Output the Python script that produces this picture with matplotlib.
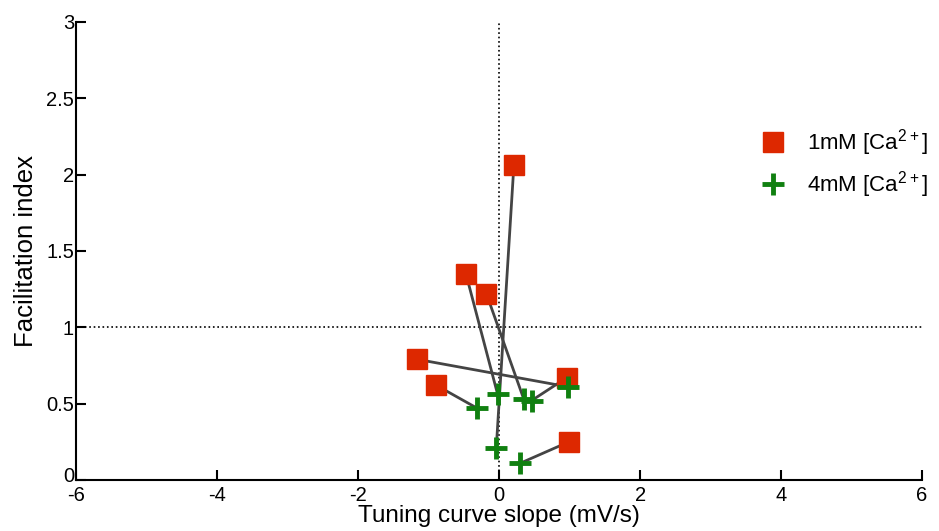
import numpy as np
import matplotlib.pyplot as plt
import matplotlib.transforms as mtransforms

plt.rcParams['font.family'] = ['Liberation Sans', 'DejaVu Sans']

# paired measurements: 1mM -> 4mM [Ca2+]
slope_1mM = [0.21, -0.47, -0.18, -1.16, -0.89, 0.96, 0.99]
fi_1mM = [2.06, 1.35, 1.22, 0.79, 0.62, 0.67, 0.25]
slope_4mM = [-0.04, -0.02, 0.35, 0.98, -0.31, 0.46, 0.30]
fi_4mM = [0.21, 0.56, 0.53, 0.61, 0.47, 0.52, 0.11]

x_ticks = [-6, -4, -2, 0, 2, 4, 6]
y_ticks = [0, 0.5, 1, 1.5, 2, 2.5, 3]
y_tick_labels = ['0', '0.5', '1', '1.5', '2', '2.5', '3']

fig = plt.figure(figsize=(9.39, 5.31), dpi=100)
ax = fig.add_axes([0.081, 0.096, 0.901, 0.863])

ax.axhline(1, color='black', linestyle=':', linewidth=1.2, zorder=1)
ax.axvline(0, color='black', linestyle=':', linewidth=1.2, zorder=1)

for x1, y1, x4, y4 in zip(slope_1mM, fi_1mM, slope_4mM, fi_4mM):
    ax.plot([x1, x4], [y1, y4], color='#444444', linewidth=2, zorder=2)

ax.plot(slope_1mM, fi_1mM, 's', color='#dd2800', markersize=15,
        markeredgecolor='#dd2800', linestyle='none', zorder=3,
        label=r'1mM [Ca$\mathregular{^{2+}}$]')
ax.plot(slope_4mM, fi_4mM, '+', color='#108010', markersize=16,
        markeredgewidth=3.5, linestyle='none', zorder=4,
        label=r'4mM [Ca$\mathregular{^{2+}}$]')

ax.set_xlim(-6, 6)
ax.set_ylim(0, 3)
ax.set_xticks(x_ticks)
ax.set_xticklabels([str(t) for t in x_ticks])
ax.set_yticks(y_ticks)
ax.set_yticklabels(y_tick_labels)
ax.tick_params(direction='in', length=7, width=1.5, labelsize=14.5)
ax.tick_params(axis='x', pad=4)
ax.tick_params(axis='y', pad=1.5)
for s in ['top', 'right']:
    ax.spines[s].set_visible(False)
for s in ['left', 'bottom']:
    ax.spines[s].set_linewidth(1.5)

# nudge the y "0" up a little so it clears the "-6" below it
lbl0 = ax.get_yticklabels()[0]
lbl0.set_transform(lbl0.get_transform() +
                   mtransforms.ScaledTranslation(0, 4 / 72, fig.dpi_scale_trans))

ax.set_xlabel('Tuning curve slope (mV/s)', fontsize=17.5, labelpad=0)
ax.set_ylabel('Facilitation index', fontsize=18.5, labelpad=6)

ax.legend(loc='center left', bbox_to_anchor=(0.78, 0.69), frameon=False,
          fontsize=16, handletextpad=0.8, labelspacing=0.5, numpoints=1,
          handlelength=1.5)

plt.savefig('out.png', dpi=100)
